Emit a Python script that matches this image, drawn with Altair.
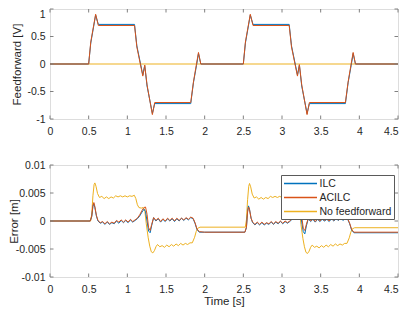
import altair as alt
import pandas as pd

FONT = "Liberation Sans"
C_ILC, C_ACILC, C_NOFF = "#0072BD", "#D95319", "#EDB120"
BOX = "#808080"
TXT = "#262626"

series_names = ["ILC", "ACILC", "No feedforward"]
series_colors = [C_ILC, C_ACILC, C_NOFF]

x_ticks = [0, 0.5, 1, 1.5, 2, 2.5, 3, 3.5, 4, 4.5]
ff_y_ticks = [-1, -0.5, 0, 0.5, 1]
err_y_ticks = [-0.01, -0.005, 0, 0.005, 0.01]

# ---- Feedforward [V] ----
ff_t = [0.00, 0.50, 0.527, 0.59, 0.625, 1.093, 1.123, 1.20, 1.225, 1.255, 1.324, 1.354, 1.82, 1.855, 1.894, 1.92, 1.95,
        2.50, 2.527, 2.59, 2.625, 3.093, 3.123, 3.20, 3.225, 3.255, 3.324, 3.354, 3.82, 3.855, 3.894, 3.92, 3.95, 4.50]
ff_acilc = [0, 0, 0.40, 0.905, 0.70, 0.70, 0.31, -0.22, -0.02, -0.38, -0.92, -0.70, -0.70, -0.325, 0.00, 0.21, 0,
            0, 0.40, 0.905, 0.70, 0.70, 0.31, -0.22, -0.01, -0.38, -0.92, -0.70, -0.70, -0.325, 0.00, 0.21, 0, 0]
ff_ilc = [0, 0, 0.38, 0.89, 0.72, 0.72, 0.33, -0.20, -0.03, -0.40, -0.90, -0.72, -0.72, -0.34, -0.03, 0.19, 0,
          0, 0.38, 0.89, 0.72, 0.72, 0.33, -0.20, -0.02, -0.40, -0.90, -0.72, -0.72, -0.34, -0.03, 0.19, 0, 0]
ff_noff_t = [0.0, 4.5]
ff_noff = [0.0, 0.0]

# ---- Error [m] (ILC / ACILC) ----
err_t = [0.00, 0.52, 0.54, 0.555, 0.567, 0.58, 0.60, 0.62,
         0.65, 0.68, 0.71, 0.74, 0.77, 0.80, 0.83, 0.86, 0.89, 0.92, 0.95, 0.98, 1.01, 1.04, 1.07, 1.10,
         1.13, 1.16, 1.19, 1.215, 1.235, 1.255, 1.275, 1.295, 1.315, 1.34,
         1.37, 1.40, 1.43, 1.46, 1.49, 1.52, 1.55, 1.58, 1.61, 1.64, 1.67, 1.70, 1.73, 1.76, 1.79, 1.82, 1.85,
         1.875, 1.90, 1.93,
         2.00, 2.52, 2.54, 2.555, 2.567, 2.58, 2.60, 2.62,
         2.65, 2.68, 2.71, 2.74, 2.77, 2.80, 2.83, 2.86, 2.89, 2.92, 2.95, 2.98, 3.01, 3.04, 3.07, 3.10,
         3.13, 3.16, 3.19, 3.215, 3.235, 3.255, 3.275, 3.295, 3.315, 3.34,
         3.37, 3.40, 3.43, 3.46, 3.49, 3.52, 3.55, 3.58, 3.61, 3.64, 3.67, 3.70, 3.73, 3.76, 3.79, 3.82, 3.85,
         3.875, 3.90, 3.93, 4.50]
err_ilc = [0, 0, 0.0008, 0.0026, 0.0031, 0.0024, 0.0009, 0.0000,
           -0.0004, -0.0002, -0.0006, -0.0002, -0.0006, -0.0003, -0.0005, 0.0000, -0.0004, 0.0001, -0.0003, 0.0001, -0.0003, 0.0002, -0.0002, 0.0001,
           0.0004, 0.0009, 0.0016, 0.0021, 0.0017, 0.0000, -0.0018, -0.0021, -0.0008, 0.0006,
           0.0000, 0.0004, -0.0002, 0.0003, -0.0001, 0.0004, 0.0000, 0.0004, -0.0001, 0.0004, 0.0000, 0.0005, 0.0001, 0.0005, 0.0002, 0.0006, 0.0004,
           -0.0004, -0.0015, -0.0020,
           -0.0020, -0.0020, -0.0012, 0.0017, 0.0027, 0.0021, 0.0005, -0.0003,
           -0.0007, -0.0003, -0.0007, -0.0003, -0.0007, -0.0004, -0.0006, -0.0002, -0.0006, -0.0002, -0.0005, -0.0001, -0.0005, -0.0001, -0.0004, -0.0001,
           0.0003, 0.0009, 0.0015, 0.0020, 0.0016, -0.0002, -0.0019, -0.0023, -0.0009, 0.0004,
           -0.0001, 0.0003, -0.0002, 0.0003, -0.0001, 0.0003, 0.0000, 0.0003, -0.0001, 0.0004, 0.0000, 0.0004, 0.0001, 0.0005, 0.0001, 0.0005, 0.0003,
           -0.0005, -0.0016, -0.0021, -0.0021]
err_acilc = [0, 0, 0.0009, 0.0028, 0.0033, 0.0026, 0.0010, 0.0001,
             -0.0003, -0.0001, -0.0005, -0.0001, -0.0005, -0.0002, -0.0004, 0.0001, -0.0002, 0.0002, -0.0002, 0.0002, -0.0002, 0.0003, -0.0001, 0.0002,
             0.0005, 0.0011, 0.0019, 0.0024, 0.0025, 0.0012, -0.0012, -0.0017, -0.0006, 0.0006,
             0.0001, 0.0005, -0.0001, 0.0004, 0.0000, 0.0005, 0.0001, 0.0005, 0.0000, 0.0005, 0.0001, 0.0005, 0.0002, 0.0006, 0.0003, 0.0007, 0.0005,
             -0.0003, -0.0014, -0.0019,
             -0.0020, -0.0020, -0.0011, 0.0016, 0.0025, 0.0020, 0.0005, -0.0002,
             -0.0006, -0.0002, -0.0006, -0.0002, -0.0006, -0.0003, -0.0005, -0.0001, -0.0005, -0.0001, -0.0004, 0.0000, -0.0004, 0.0000, -0.0003, 0.0000,
             0.0004, 0.0010, 0.0017, 0.0022, 0.0022, 0.0008, -0.0013, -0.0017, -0.0006, 0.0005,
             0.0000, 0.0004, -0.0001, 0.0004, 0.0000, 0.0004, 0.0001, 0.0004, 0.0000, 0.0005, 0.0001, 0.0005, 0.0002, 0.0006, 0.0002, 0.0006, 0.0004,
             -0.0004, -0.0015, -0.0020, -0.0020]

# ---- Error [m] (No feedforward) ----
noff_t = [0.00, 0.525, 0.54, 0.555, 0.57, 0.58, 0.595, 0.615, 0.64,
          0.67, 0.70, 0.73, 0.76, 0.79, 0.82, 0.85, 0.88, 0.91, 0.94, 0.97, 1.00, 1.03, 1.06, 1.09,
          1.11, 1.13, 1.15, 1.18, 1.205, 1.225,
          1.245, 1.27, 1.29, 1.31, 1.33, 1.35, 1.37, 1.39,
          1.42, 1.45, 1.48, 1.51, 1.54, 1.57, 1.60, 1.63, 1.66, 1.69, 1.72, 1.75, 1.78, 1.81, 1.84,
          1.87, 1.89, 1.91, 1.94,
          2.525, 2.54, 2.555, 2.57, 2.58, 2.595, 2.615, 2.64,
          2.67, 2.70, 2.73, 2.76, 2.79, 2.82, 2.85, 2.88, 2.91, 2.94, 2.97, 3.00, 3.03, 3.06, 3.09,
          3.11, 3.13, 3.15, 3.18, 3.205, 3.225,
          3.245, 3.27, 3.29, 3.31, 3.33, 3.35, 3.37, 3.39,
          3.42, 3.45, 3.48, 3.51, 3.54, 3.57, 3.60, 3.63, 3.66, 3.69, 3.72, 3.75, 3.78, 3.81, 3.84,
          3.87, 3.89, 3.91, 3.94, 4.50]
noff_v = [0, 0, 0.0012, 0.0045, 0.0065, 0.0068, 0.0062, 0.0049, 0.0042,
          0.0044, 0.0040, 0.0043, 0.0040, 0.0043, 0.0041, 0.0045, 0.0043, 0.0045, 0.0043, 0.0045, 0.0043, 0.0045, 0.0044, 0.0046,
          0.0040, 0.0029, 0.0024, 0.0023, 0.0024, 0.0020,
          -0.0005, -0.0030, -0.0045, -0.0055, -0.0057, -0.0053, -0.0046, -0.0042,
          -0.0046, -0.0044, -0.0047, -0.0043, -0.0046, -0.0042, -0.0045, -0.0041, -0.0044, -0.0040, -0.0043, -0.0040, -0.0042, -0.0039, -0.0039,
          -0.0029, -0.0019, -0.0013, -0.0011,
          -0.0011, 0.0002, 0.0038, 0.0062, 0.0067, 0.0061, 0.0048, 0.0041,
          0.0043, 0.0039, 0.0042, 0.0039, 0.0042, 0.0040, 0.0044, 0.0042, 0.0044, 0.0042, 0.0044, 0.0042, 0.0044, 0.0043, 0.0045,
          0.0039, 0.0028, 0.0023, 0.0022, 0.0023, 0.0019,
          -0.0006, -0.0031, -0.0046, -0.0056, -0.0058, -0.0054, -0.0047, -0.0043,
          -0.0047, -0.0045, -0.0048, -0.0044, -0.0047, -0.0043, -0.0046, -0.0042, -0.0045, -0.0041, -0.0044, -0.0041, -0.0043, -0.0040, -0.0040,
          -0.0030, -0.0020, -0.0014, -0.0012, -0.0012]

ff_df = pd.concat([
    pd.DataFrame({"t": ff_t, "v": ff_ilc, "s": "ILC"}),
    pd.DataFrame({"t": ff_t, "v": ff_acilc, "s": "ACILC"}),
    pd.DataFrame({"t": ff_noff_t, "v": ff_noff, "s": "No feedforward"}),
], ignore_index=True)
err_df = pd.concat([
    pd.DataFrame({"t": err_t, "v": err_ilc, "s": "ILC"}),
    pd.DataFrame({"t": err_t, "v": err_acilc, "s": "ACILC"}),
    pd.DataFrame({"t": noff_t, "v": noff_v, "s": "No feedforward"}),
], ignore_index=True)

W = 348
H1, GAP, H2 = 110, 46, 112
TICK = 3.5
LW = 1.0


def make_panel(df, height, y_ticks, y_dom, y_title, title_x, x_title, top_label_flag, with_legend):
    xs = alt.Scale(domain=[0, 4.5], nice=False, zero=False)
    ys = alt.Scale(domain=y_dom, nice=False, zero=False)
    x_axis = alt.Axis(values=x_ticks, labelExpr="toString(datum.value)", ticks=False, domain=False,
                      grid=False, labelPadding=7, labelFontSize=10.5, labelFont=FONT, labelColor=TXT,
                      labelFlush=False, labelOverlap=False,
                      labelAlign={"condition": {"test": "datum.value == 4.5", "value": "right"},
                                  "value": "center"},
                      title=x_title, titleFont=FONT,
                      titleFontSize=11.5, titleFontWeight="normal", titleColor=TXT, titlePadding=1)
    y_kwargs = dict(values=y_ticks, labelExpr="toString(datum.value)", ticks=False, domain=False,
                    grid=False, labelPadding=5, labelFontSize=10.5, labelFont=FONT, labelColor=TXT,
                    labelFlush=False, labelOverlap=False, title=y_title, titleFont=FONT,
                    titleFontSize=11.5, titleFontWeight="normal", titleColor=TXT, titleX=title_x)
    if top_label_flag:
        y_kwargs["labelBaseline"] = {"condition": {"test": "datum.value == 1", "value": "top"},
                                     "value": "middle"}
    y_axis = alt.Axis(**y_kwargs)

    layers = []
    for name in ["No feedforward", "ILC", "ACILC"]:
        base = alt.Chart(df).transform_filter(alt.datum.s == name).mark_line(
            strokeWidth=LW, clip=True)
        enc = dict(x=alt.X("t:Q", scale=xs, axis=x_axis),
                   y=alt.Y("v:Q", scale=ys, axis=y_axis))
        if with_legend:
            enc["color"] = alt.Color(
                "s:N",
                scale=alt.Scale(domain=series_names, range=series_colors),
                legend=alt.Legend(title=None, orient="none", legendX=231, legendY=10,
                                  fillColor="white", strokeColor="#5a5a5a", padding=2,
                                  symbolType="M-1,0H5", symbolSize=121, symbolStrokeWidth=1.5,
                                  labelOffset=23.5, labelFontSize=10.5, labelFont=FONT,
                                  labelColor=TXT, rowPadding=2, labelLimit=200),
            )
        else:
            enc["stroke"] = alt.value(series_colors[series_names.index(name)])
        layers.append(base.encode(**enc))

    xt = pd.DataFrame({"t": x_ticks})
    yt = pd.DataFrame({"v": y_ticks})
    rule = dict(color=BOX, strokeWidth=1)
    layers.append(alt.Chart(xt).mark_rule(**rule).encode(
        x=alt.X("t:Q", scale=xs, axis=x_axis), y=alt.value(0), y2=alt.value(TICK)))
    layers.append(alt.Chart(xt).mark_rule(**rule).encode(
        x=alt.X("t:Q", scale=xs, axis=x_axis), y=alt.value(height), y2=alt.value(height - TICK)))
    layers.append(alt.Chart(yt).mark_rule(**rule).encode(
        y=alt.Y("v:Q", scale=ys, axis=y_axis), x=alt.value(0), x2=alt.value(TICK)))
    layers.append(alt.Chart(yt).mark_rule(**rule).encode(
        y=alt.Y("v:Q", scale=ys, axis=y_axis), x=alt.value(W), x2=alt.value(W - TICK)))
    return alt.layer(*layers).properties(width=W, height=height)


top = make_panel(ff_df, H1, ff_y_ticks, [-1, 1], "Feedforward [V]", -28, None, True, False)
bottom = make_panel(err_df, H2, err_y_ticks, [-0.01, 0.01], "Error [m]", -30.5, "Time [s]", False, True)

chart = alt.vconcat(top, bottom, spacing=GAP, bounds="flush").resolve_scale(
    color="independent"
).resolve_legend(color="independent").properties(
    padding=0
).configure_view(stroke=BOX, strokeWidth=1).configure(background="white")

chart.save("out.html", embed_options={"renderer": "svg", "actions": False})
